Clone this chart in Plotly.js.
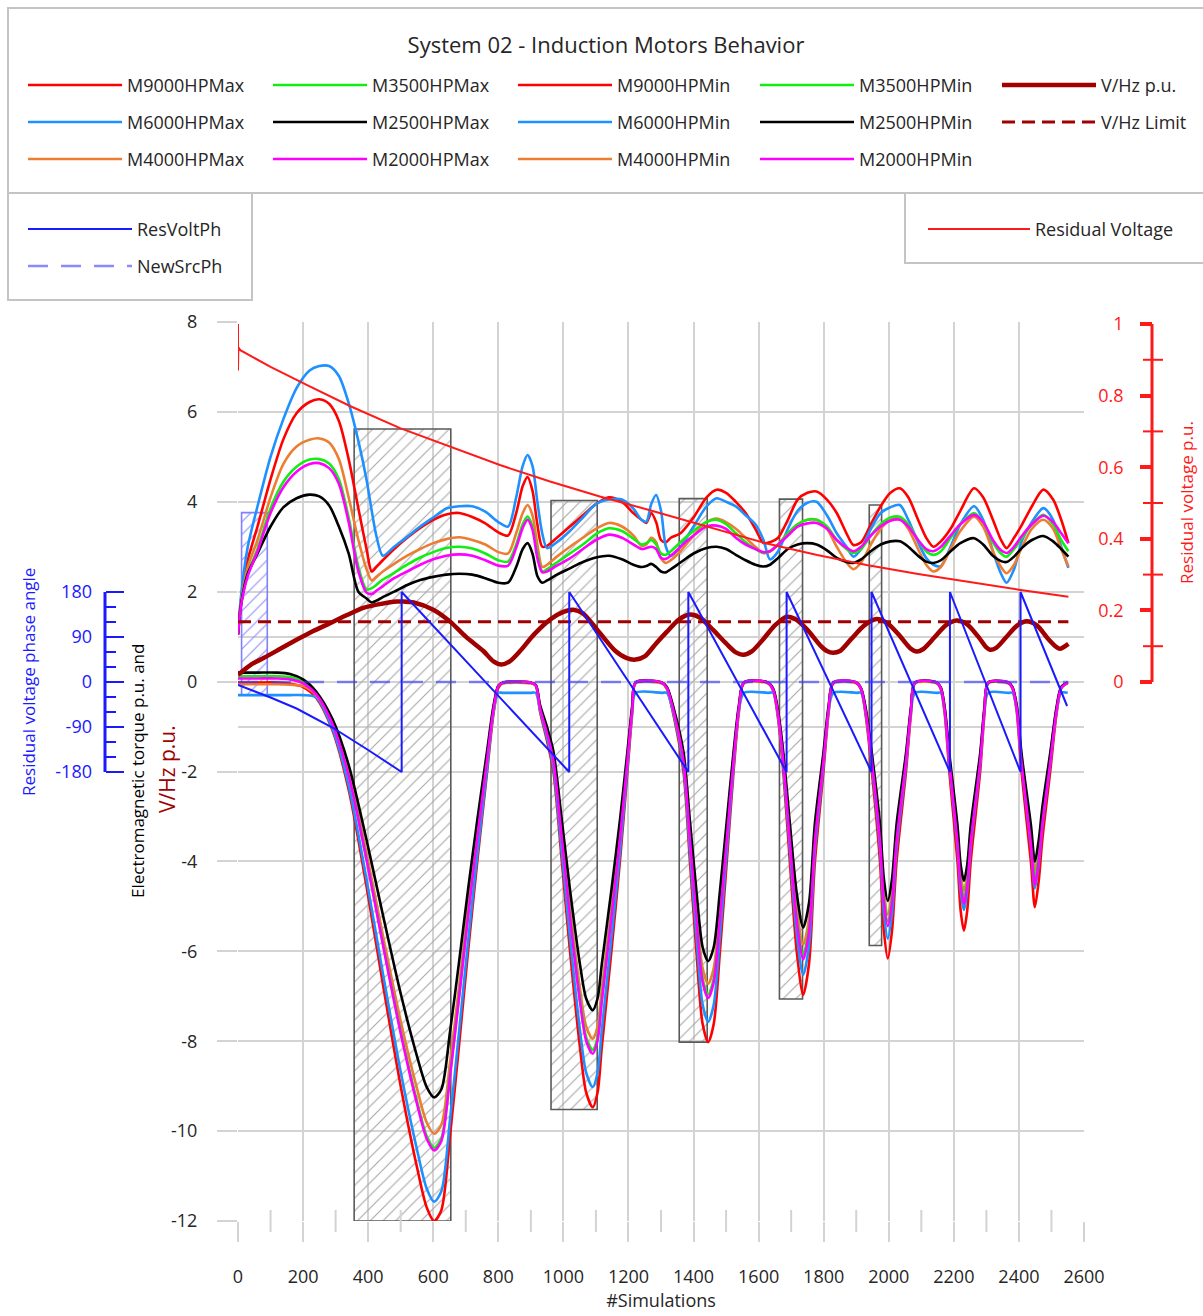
<!DOCTYPE html>
<html>
<head>
<meta charset="utf-8">
<script src="https://cdn.plot.ly/plotly-3.0.1.min.js"></script>
<style>
  html, body { margin: 0; padding: 0; background: #ffffff; }
  #chart { width: 1203px; height: 1316px; }
</style>
</head>
<body>
<div id="chart"></div>
<script>
// ---------------- data ----------------
const xTicks = [0, 200, 400, 600, 800, 1000, 1200, 1400, 1600, 1800, 2000, 2200, 2400, 2600];
const yTicks = [-12, -10, -8, -6, -4, -2, 0, 2, 4, 6, 8];
const yTickText = ['-12', '-10', '-8', '-6', '-4', '-2', '0', '2', '4', '6', '8'];
const phaseTicks = [-180, -90, 0, 90, 180];
const phaseTickText = ['-180', '-90', '0', '90', '180'];
const phaseMinorTicks = [-150, -120, -60, -30, 30, 60, 120, 150];
const residualTicks = [0, 0.2, 0.4, 0.6, 0.8, 1];
const residualTickText = ['0', '0.2', '0.4', '0.6', '0.8', '1'];
const residualMinorTicks = [0.1, 0.3, 0.5, 0.7, 0.9];

// Upper envelope: maximum electromagnetic torque per motor (p.u.)
const maxX = [0,10,30,60,100,140,180,220,250,280,
  310,340,370,395,411,425,445,480,520,560,
  600,640,680,720,760,800,830,855,875,890,
  905,920,935,950,980,1020,1060,1100,1140,1180,
  1215,1240,1255,1270,1285,1300,1315,1330,1360,1400,
  1440,1471,1500,1530,1560,1590,1615,1635,1660,1690,
  1720,1750,1778,1810,1840,1870,1891,1915,1945,1975,
  2005,2034,2060,2090,2115,2137,2160,2190,2220,2262,
  2290,2320,2345,2362,2385,2410,2440,2475,2505,2530,
  2552];
const m9000Max = [1.05,1.85,2.7,3.45,4.5,5.4,5.97,6.22,6.28,6.18,
  5.8,4.95,3.85,2.95,2.45,2.55,2.7,2.95,3.2,3.42,
  3.6,3.72,3.75,3.66,3.52,3.32,3.25,3.75,4.35,4.55,
  4.25,3.5,3.0,3.02,3.2,3.45,3.7,3.95,4.1,4.0,
  3.75,3.6,3.53,3.75,3.55,3.15,3.1,3.2,3.3,3.65,
  4.1,4.27,4.2,4.0,3.75,3.4,3.08,3.1,3.2,3.6,
  4.05,4.2,4.23,4.05,3.75,3.3,3.04,3.1,3.5,3.9,
  4.2,4.3,4.1,3.6,3.2,3.0,3.12,3.4,3.8,4.3,
  4.1,3.6,3.15,2.97,3.2,3.5,3.9,4.27,4.05,3.6,
  3.08];
const m6000Max = [1.05,1.95,3.0,3.9,5.0,5.85,6.53,6.92,7.02,7.02,
  6.8,6.2,5.35,4.49,3.8,3.25,2.8,3.0,3.22,3.45,
  3.65,3.85,3.9,3.9,3.78,3.55,3.45,4.1,4.8,5.04,
  4.8,4.0,3.3,2.97,3.1,3.35,3.65,3.95,4.05,4.05,
  3.85,3.6,3.56,3.95,4.15,3.8,3.0,2.8,3.0,3.45,
  3.9,4.08,4.0,3.9,3.7,3.5,3.15,2.72,2.9,3.4,
  3.8,3.98,4.0,3.7,3.3,3.0,2.78,2.95,3.4,3.75,
  3.88,3.93,3.6,3.1,2.75,2.6,2.57,3.0,3.5,3.9,
  3.6,2.9,2.4,2.2,2.5,3.15,3.55,3.86,3.6,3.0,
  2.53];
const m4000Max = [1.05,1.8,2.55,3.15,4.1,4.85,5.23,5.38,5.41,5.32,
  4.95,4.1,3.15,2.5,2.25,2.33,2.45,2.62,2.8,2.95,
  3.08,3.17,3.21,3.15,3.05,2.88,2.85,3.3,3.75,3.93,
  3.7,3.05,2.55,2.6,2.78,3.0,3.2,3.4,3.53,3.45,
  3.25,3.02,3.05,3.2,3.1,2.75,2.64,2.7,2.9,3.25,
  3.55,3.63,3.55,3.4,3.2,3.0,2.86,2.9,3.05,3.3,
  3.5,3.6,3.6,3.4,3.0,2.65,2.5,2.65,3.05,3.4,
  3.6,3.63,3.4,2.95,2.6,2.45,2.55,2.95,3.35,3.67,
  3.45,2.9,2.55,2.41,2.6,3.0,3.4,3.6,3.4,2.95,
  2.56];
const m3500Max = [1.05,1.75,2.4,2.95,3.85,4.45,4.78,4.94,4.95,4.85,
  4.5,3.65,2.55,2.05,2.08,2.15,2.27,2.42,2.6,2.76,
  2.88,2.97,3.0,2.96,2.85,2.7,2.67,3.05,3.5,3.67,
  3.45,2.85,2.45,2.5,2.65,2.85,3.05,3.28,3.41,3.35,
  3.18,3.05,3.08,3.15,3.05,2.85,2.82,2.9,3.1,3.35,
  3.55,3.6,3.5,3.3,3.1,2.95,2.86,2.9,3.05,3.3,
  3.5,3.6,3.6,3.45,3.15,2.95,2.86,2.95,3.25,3.5,
  3.65,3.67,3.5,3.15,2.9,2.82,2.9,3.2,3.5,3.75,
  3.55,3.1,2.85,2.78,2.95,3.2,3.5,3.71,3.5,3.15,
  2.9];
const m2500Max = [1.05,1.75,2.4,2.85,3.45,3.88,4.08,4.16,4.12,3.92,
  3.45,2.85,2.0,1.85,1.76,1.8,1.88,2.0,2.15,2.26,
  2.33,2.38,2.4,2.38,2.3,2.2,2.2,2.55,2.95,3.08,
  2.85,2.35,2.2,2.25,2.38,2.52,2.66,2.76,2.8,2.72,
  2.6,2.55,2.57,2.62,2.55,2.45,2.43,2.5,2.65,2.85,
  2.97,3.0,2.95,2.82,2.7,2.6,2.56,2.6,2.75,2.95,
  3.05,3.08,3.05,2.92,2.75,2.66,2.64,2.72,2.9,3.05,
  3.12,3.12,3.0,2.8,2.67,2.64,2.7,2.9,3.08,3.19,
  3.05,2.8,2.68,2.66,2.78,2.98,3.15,3.24,3.12,2.95,
  2.78];
const m2000Max = [1.05,1.72,2.35,2.9,3.75,4.33,4.67,4.84,4.86,4.75,
  4.4,3.55,2.45,1.98,1.95,2.02,2.12,2.3,2.45,2.6,
  2.72,2.8,2.83,2.8,2.7,2.58,2.58,2.98,3.42,3.6,
  3.38,2.75,2.43,2.45,2.58,2.74,2.95,3.15,3.27,3.2,
  3.05,2.95,2.97,3.0,2.95,2.75,2.73,2.8,3.0,3.25,
  3.45,3.47,3.4,3.2,3.05,2.95,2.88,2.9,3.05,3.25,
  3.45,3.52,3.53,3.4,3.15,2.98,2.9,3.0,3.25,3.45,
  3.58,3.6,3.45,3.15,2.95,2.9,3.0,3.25,3.5,3.71,
  3.55,3.15,2.92,2.86,3.0,3.25,3.5,3.69,3.55,3.3,
  3.08];

// Lower envelope: minimum electromagnetic torque per motor (p.u.)
const minX = [0,60,120,160,200,240,290,340,395,445,
  500,550,580,603,625,652,680,707,736,765,
  785,800,815,898,915,928,950,969,995,1020,
  1051,1070,1090,1105,1118,1148,1174,1197,1212,1222,
  1302,1318,1340,1369,1389,1409,1428,1445,1462,1481,
  1502,1523,1540,1555,1628,1645,1660,1676,1696,1717,
  1737,1755,1773,1799,1815,1830,1900,1915,1930,1948,
  1973,1985,1997,2010,2024,2053,2068,2081,2147,2160,
  2172,2186,2211,2221,2231,2241,2252,2281,2294,2306,
  2367,2380,2393,2408,2437,2449,2461,2472,2496,2515,
  2530,2550];
const m9000Min = [-0.02,-0.02,-0.02,-0.05,-0.12,-0.36,-1.08,-2.4,-4.56,-6.72,
  -9.0,-10.8,-11.7,-12.0,-11.76,-10.08,-8.04,-6.0,-3.96,-2.04,
  -0.72,-0.14,-0.02,-0.02,-0.09,-0.66,-1.33,-1.99,-3.98,-5.97,
  -8.14,-9.14,-9.47,-9.14,-8.14,-5.97,-3.98,-1.99,-0.66,-0.02,
  -0.02,-0.16,-0.8,-2.0,-4.01,-6.02,-7.62,-8.02,-7.62,-6.02,
  -4.01,-2.0,-0.64,-0.02,-0.02,-0.21,-0.84,-2.02,-4.01,-5.99,
  -6.97,-6.27,-4.01,-2.02,-0.7,-0.02,-0.02,-0.18,-0.8,-2.0,
  -4.0,-5.54,-6.16,-5.54,-4.0,-2.0,-0.74,-0.02,-0.02,-0.17,
  -0.72,-1.99,-3.99,-5.1,-5.54,-5.1,-3.99,-1.99,-0.72,-0.02,
  -0.02,-0.15,-0.65,-2.01,-4.02,-5.02,-4.42,-3.51,-2.01,-0.75,
  -0.15,-0.02];
const m6000Min = [-0.3,-0.3,-0.3,-0.3,-0.3,-0.35,-1.04,-2.31,-4.4,-6.48,
  -8.68,-10.41,-11.28,-11.57,-11.34,-9.72,-7.75,-5.79,-3.82,-1.97,
  -0.69,-0.25,-0.25,-0.25,-0.25,-0.63,-1.26,-1.89,-3.79,-5.68,
  -7.76,-8.7,-9.02,-8.7,-7.76,-5.68,-3.79,-1.89,-0.63,-0.25,
  -0.25,-0.25,-0.76,-1.89,-3.79,-5.68,-7.19,-7.57,-7.19,-5.68,
  -3.79,-1.89,-0.61,-0.25,-0.25,-0.25,-0.78,-1.89,-3.75,-5.61,
  -6.52,-5.87,-3.75,-1.89,-0.65,-0.25,-0.25,-0.25,-0.74,-1.86,
  -3.72,-5.15,-5.72,-5.15,-3.72,-1.86,-0.69,-0.25,-0.25,-0.25,
  -0.66,-1.83,-3.66,-4.67,-5.08,-4.67,-3.66,-1.83,-0.66,-0.25,
  -0.25,-0.25,-0.6,-1.84,-3.68,-4.6,-4.05,-3.22,-1.84,-0.69,
  -0.25,-0.25];
const m4000Min = [-0.06,-0.06,-0.06,-0.07,-0.1,-0.3,-0.91,-2.01,-3.82,-5.63,
  -7.55,-9.05,-9.81,-10.06,-9.86,-8.45,-6.74,-5.03,-3.32,-1.71,
  -0.6,-0.1,-0.04,-0.04,-0.08,-0.56,-1.11,-1.67,-3.34,-5.01,
  -6.84,-7.67,-7.95,-7.67,-6.84,-5.01,-3.34,-1.67,-0.56,-0.04,
  -0.04,-0.13,-0.67,-1.68,-3.36,-5.04,-6.38,-6.72,-6.38,-5.04,
  -3.36,-1.68,-0.54,-0.04,-0.04,-0.18,-0.7,-1.7,-3.36,-5.03,
  -5.85,-5.27,-3.36,-1.7,-0.59,-0.04,-0.04,-0.16,-0.67,-1.68,
  -3.37,-4.66,-5.18,-4.66,-3.37,-1.68,-0.62,-0.04,-0.04,-0.14,
  -0.61,-1.68,-3.36,-4.29,-4.66,-4.29,-3.36,-1.68,-0.61,-0.04,
  -0.04,-0.13,-0.55,-1.68,-3.36,-4.2,-3.7,-2.94,-1.68,-0.63,
  -0.13,-0.04];
const m3500Min = [0.12,0.12,0.12,0.1,0.0,-0.24,-0.9,-2.07,-3.94,-5.81,
  -7.78,-9.33,-10.11,-10.37,-10.16,-8.71,-6.95,-5.19,-3.42,-1.76,
  -0.62,-0.1,-0.02,-0.02,-0.08,-0.57,-1.15,-1.72,-3.44,-5.17,
  -7.05,-7.91,-8.2,-7.91,-7.05,-5.17,-3.44,-1.72,-0.57,-0.02,
  -0.02,-0.14,-0.7,-1.74,-3.48,-5.22,-6.61,-6.96,-6.61,-5.22,
  -3.48,-1.74,-0.56,-0.02,-0.02,-0.18,-0.73,-1.76,-3.5,-5.23,
  -6.08,-5.47,-3.5,-1.76,-0.61,-0.02,-0.02,-0.16,-0.69,-1.73,
  -3.46,-4.8,-5.33,-4.8,-3.46,-1.73,-0.64,-0.02,-0.02,-0.14,
  -0.63,-1.74,-3.47,-4.43,-4.82,-4.43,-3.47,-1.74,-0.63,-0.02,
  -0.02,-0.13,-0.57,-1.75,-3.5,-4.37,-3.85,-3.06,-1.75,-0.66,
  -0.13,-0.02];
const m2500Min = [0.2,0.2,0.2,0.17,0.05,-0.22,-0.83,-1.85,-3.52,-5.18,
  -6.94,-8.33,-9.02,-9.25,-9.07,-7.77,-6.2,-4.63,-3.05,-1.57,
  -0.55,-0.09,-0.02,-0.02,-0.07,-0.51,-1.02,-1.54,-3.07,-4.61,
  -6.29,-7.05,-7.31,-7.05,-6.29,-4.61,-3.07,-1.54,-0.51,-0.02,
  -0.02,-0.12,-0.62,-1.56,-3.11,-4.67,-5.91,-6.22,-5.91,-4.67,
  -3.11,-1.56,-0.5,-0.02,-0.02,-0.16,-0.66,-1.59,-3.15,-4.7,
  -5.47,-4.92,-3.15,-1.59,-0.55,-0.02,-0.02,-0.15,-0.63,-1.59,
  -3.17,-4.39,-4.88,-4.39,-3.17,-1.59,-0.59,-0.02,-0.02,-0.13,
  -0.58,-1.59,-3.19,-4.08,-4.43,-4.08,-3.19,-1.59,-0.58,-0.02,
  -0.02,-0.12,-0.52,-1.6,-3.2,-4.0,-3.52,-2.8,-1.6,-0.6,
  -0.12,-0.02];
const m2000Min = [0.07,0.07,0.07,0.05,-0.04,-0.28,-0.94,-2.09,-3.96,-5.84,
  -7.82,-9.39,-10.17,-10.43,-10.22,-8.76,-6.99,-5.22,-3.44,-1.77,
  -0.63,-0.1,-0.02,-0.02,-0.08,-0.58,-1.16,-1.74,-3.48,-5.22,
  -7.12,-7.99,-8.28,-7.99,-7.12,-5.22,-3.48,-1.74,-0.58,-0.02,
  -0.02,-0.14,-0.7,-1.76,-3.52,-5.28,-6.69,-7.04,-6.69,-5.28,
  -3.52,-1.76,-0.56,-0.02,-0.02,-0.19,-0.74,-1.79,-3.55,-5.31,
  -6.18,-5.56,-3.55,-1.79,-0.62,-0.02,-0.02,-0.16,-0.71,-1.77,
  -3.54,-4.9,-5.44,-4.9,-3.54,-1.77,-0.65,-0.02,-0.02,-0.15,
  -0.64,-1.78,-3.56,-4.54,-4.94,-4.54,-3.56,-1.78,-0.64,-0.02,
  -0.02,-0.14,-0.59,-1.81,-3.62,-4.52,-3.98,-3.16,-1.81,-0.68,
  -0.14,-0.02];

// Volts-per-hertz (p.u.) and its limit
const vhzX = [0,40,80,130,180,230,283,335,385,440,
  488,510,540,600,651,700,754,785,810,835,
  867,910,959,1000,1030,1060,1112,1160,1195,1222,
  1250,1285,1317,1355,1389,1420,1460,1500,1530,1553,
  1580,1615,1650,1686,1715,1750,1790,1810,1829,1850,
  1885,1925,1963,1995,2030,2065,2086,2105,2140,2175,
  2208,2240,2275,2300,2311,2330,2360,2395,2424,2455,
  2490,2515,2526,2552];
const vhzY = [0.15,0.38,0.53,0.73,0.93,1.12,1.3,1.48,1.64,1.73,
  1.78,1.78,1.76,1.6,1.34,1.0,0.68,0.45,0.38,0.45,
  0.68,1.05,1.38,1.55,1.6,1.52,1.08,0.68,0.52,0.49,
  0.56,0.85,1.1,1.38,1.49,1.42,1.15,0.85,0.65,0.6,
  0.68,0.95,1.25,1.44,1.38,1.15,0.8,0.68,0.64,0.68,
  0.95,1.25,1.39,1.3,1.05,0.75,0.67,0.72,0.98,1.25,
  1.36,1.28,1.0,0.76,0.71,0.75,0.98,1.25,1.34,1.25,
  0.95,0.77,0.73,0.84];
const vhzLimitX = [0, 2552];
const vhzLimitY = [1.333, 1.333];

// Residual voltage phase angle (deg) and new source phase (deg)
const resPhX = [0,100,180,293,400,503,503,1018,1018,1384,1384,1686,1686,1947,1947,2188,2188,2405,2405,2548];
const resPhY = [-6,-31,-53,-92,-136,-180,180,-180,180,-180,180,-180,180,-180,180,-180,180,-180,180,-48];
const newSrcX = [0, 2552];
const newSrcY = [0, 0];

// Residual voltage magnitude (p.u.)
const resVX = [0,0,0,0,1,7,100,211,344,498,651,805,959,1112,1266,1420,1625,1780,1932,2090,2239,2400,2552];
const resVY = [1.0,0.87,0.97,0.9,0.935,0.927,0.88,0.83,0.771,0.709,0.657,0.606,0.56,0.518,0.48,0.441,0.387,0.355,0.327,0.302,0.28,0.258,0.238];

// Transfer windows (hatched boxes): start, end, top, bottom
const winStart  = [11, 357, 962, 1356, 1664, 1940];
const winEnd    = [90, 654, 1104, 1442, 1735, 1978];
const winTop    = [3.76, 5.62, 4.03, 4.07, 4.06, 3.93];
const winBottom = [-0.3, -12, -9.52, -8.02, -7.06, -5.87];
const winHatch  = ['#8c8cff', '#a6a6a6', '#a6a6a6', '#a6a6a6', '#a6a6a6', '#a6a6a6'];
const winEdge   = ['#8080ff', '#5a5a5a', '#5a5a5a', '#5a5a5a', '#5a5a5a', '#5a5a5a'];

// ---------------- styling ----------------
const FONT = 'Open Sans, Noto Sans, sans-serif';
const W = 1203, H = 1316;
const M = { l: 238, r: 119, t: 322, b: 95, autoexpand: false };
const PW = W - M.l - M.r, PH = H - M.t - M.b;
const px = v => (v - M.l) / PW;          // page x pixel -> paper x
const py = v => (M.t + PH - v) / PH;     // page y pixel -> paper y
const cx = v => v / W;                   // page x pixel -> container x
const cy = v => 1 - v / H;               // page y pixel -> container y

const C = {
  red: '#ff0000', blue: '#1e90ff', orange: '#ed7d31', green: '#11ee11',
  black: '#000000', magenta: '#ff00ff', vhz: '#a00000',
  phase: '#1a1aff', residual: '#ff1a1a', grid: '#d3d3d3', text: '#262626'
};

function motor(name, x, y, color, legend) {
  return {
    type: 'scatter', mode: 'lines', name: name, x: x, y: y,
    line: { color: color, width: 2.6, shape: 'spline', smoothing: 0.8 },
    legend: legend, legendgroup: name, hoverinfo: 'skip'
  };
}

const windows = {
  type: 'bar', showlegend: false, hoverinfo: 'skip',
  x: winStart.map((s, i) => (s + winEnd[i]) / 2),
  width: winStart.map((s, i) => winEnd[i] - s),
  base: winBottom,
  y: winTop.map((t, i) => t - winBottom[i]),
  marker: {
    color: winHatch,
    pattern: { shape: '/', fillmode: 'replace', size: 9, solidity: 0.12, bgcolor: 'rgba(0,0,0,0)' },
    line: { color: winEdge, width: 1.6 }
  }
};

const traces = [
  windows,
  motor('M9000HPMax', maxX, m9000Max, C.red, 'legend'),
  motor('M6000HPMax', maxX, m6000Max, C.blue, 'legend'),
  motor('M4000HPMax', maxX, m4000Max, C.orange, 'legend'),
  motor('M3500HPMax', maxX, m3500Max, C.green, 'legend2'),
  motor('M2500HPMax', maxX, m2500Max, C.black, 'legend2'),
  motor('M2000HPMax', maxX, m2000Max, C.magenta, 'legend2'),
  motor('M9000HPMin', minX, m9000Min, C.red, 'legend3'),
  motor('M6000HPMin', minX, m6000Min, C.blue, 'legend3'),
  motor('M4000HPMin', minX, m4000Min, C.orange, 'legend3'),
  motor('M3500HPMin', minX, m3500Min, C.green, 'legend4'),
  motor('M2500HPMin', minX, m2500Min, C.black, 'legend4'),
  motor('M2000HPMin', minX, m2000Min, C.magenta, 'legend4'),
  {
    type: 'scatter', mode: 'lines', name: 'V/Hz p.u.', x: vhzX, y: vhzY,
    line: { color: C.vhz, width: 4.5, shape: 'spline', smoothing: 0.8 },
    legend: 'legend5', legendgroup: 'vhz', hoverinfo: 'skip'
  },
  {
    type: 'scatter', mode: 'lines', name: 'V/Hz Limit', x: vhzLimitX, y: vhzLimitY,
    line: { color: C.vhz, width: 3, dash: '13px,7px' },
    legend: 'legend5', legendgroup: 'vhzlim', hoverinfo: 'skip'
  },
  {
    type: 'scatter', mode: 'lines', name: 'ResVoltPh', x: resPhX, y: resPhY, yaxis: 'y2',
    line: { color: C.phase, width: 2 },
    legend: 'legend6', legendgroup: 'resph', hoverinfo: 'skip'
  },
  {
    type: 'scatter', mode: 'lines', name: 'NewSrcPh', x: newSrcX, y: newSrcY, yaxis: 'y2',
    line: { color: 'rgba(60,60,255,0.6)', width: 2.5, dash: '20px,13px' },
    legend: 'legend6', legendgroup: 'newsrc', hoverinfo: 'skip'
  },
  {
    type: 'scatter', mode: 'lines', name: 'Residual Voltage', x: resVX, y: resVY, yaxis: 'y3',
    line: { color: C.residual, width: 2 },
    legend: 'legend7', legendgroup: 'resv', hoverinfo: 'skip'
  }
];

// ---------------- decorations ----------------
const shapes = [];
// phase-angle axis spine (only across -180..180)
shapes.push({ type: 'line', xref: 'paper', yref: 'y2', x0: px(105), x1: px(105), y0: -180, y1: 180,
  line: { color: C.phase, width: 3 } });
// residual-voltage axis spine (only across 0..1) and its crossing minor ticks
shapes.push({ type: 'line', xref: 'paper', yref: 'y3', x0: px(1152), x1: px(1152), y0: 0, y1: 1,
  line: { color: C.residual, width: 3 } });
residualMinorTicks.forEach(v => shapes.push({ type: 'line', xref: 'paper', yref: 'y3',
  x0: px(1143), x1: px(1163), y0: v, y1: v, line: { color: C.residual, width: 2 } }));
// crossing minor ticks on the x axis
for (let v = 100; v < 2600; v += 200) {
  shapes.push({ type: 'line', xref: 'x', yref: 'paper', x0: v, x1: v, y0: -11 / PH, y1: 11 / PH,
    line: { color: C.grid, width: 2 } });
}
// legend frames
const frame = { type: 'rect', xref: 'paper', yref: 'paper', line: { color: '#c4c4c4', width: 2 }, fillcolor: 'rgba(0,0,0,0)' };
shapes.push(Object.assign({}, frame, { x0: px(8), x1: px(1212), y0: py(193), y1: py(8) }));
shapes.push(Object.assign({}, frame, { x0: px(8), x1: px(252), y0: py(300), y1: py(193) }));
shapes.push(Object.assign({}, frame, { x0: px(905), x1: px(1212), y0: py(263), y1: py(193) }));

const rot = { textangle: -90, showarrow: false, xanchor: 'center', yanchor: 'middle', xref: 'paper', yref: 'paper' };
const annotations = [
  Object.assign({ text: 'Residual voltage phase angle', x: px(28), y: py(682),
    font: { family: FONT, size: 17, color: C.phase } }, rot),
  Object.assign({ text: 'Electromagnetic torque p.u. and', x: px(137), y: py(771),
    font: { family: FONT, size: 17, color: '#000000' } }, rot),
  Object.assign({ text: 'V/Hz p.u.', x: px(167), y: py(769),
    font: { family: FONT, size: 21, color: C.vhz } }, rot),
  Object.assign({ text: 'Residual voltage p.u.', x: px(1187), y: py(503),
    font: { family: FONT, size: 17, color: C.residual } }, rot)
];

function legendAt(lineX, topY, itemw) {
  return {
    xref: 'container', yref: 'container', x: cx(lineX), y: cy(topY),
    xanchor: 'left', yanchor: 'top', orientation: 'v',
    bgcolor: 'rgba(0,0,0,0)', borderwidth: 0, itemwidth: itemw,
    tracegroupgap: 10.6, traceorder: 'grouped',
    font: { family: FONT, size: 18, color: C.text }
  };
}

const layout = {
  width: W, height: H,
  margin: M,
  paper_bgcolor: '#ffffff', plot_bgcolor: '#ffffff',
  font: { family: FONT, size: 18, color: C.text },
  title: { text: 'System 02 - Induction Motors Behavior', xref: 'container', yref: 'container',
    x: cx(606), y: cy(45), xanchor: 'center', yanchor: 'middle',
    font: { family: FONT, size: 22, color: C.text } },
  barmode: 'overlay', bargap: 0,
  xaxis: {
    range: [0, 2600], tickmode: 'array', tickvals: xTicks,
    ticks: 'outside', ticklen: 20, tickwidth: 2, tickcolor: C.grid,
    showgrid: true, gridcolor: C.grid, gridwidth: 2, zeroline: false, showline: false,
    tickfont: { family: FONT, size: 18, color: C.text }, ticklabelstandoff: 19,
    title: { text: '#Simulations', font: { family: FONT, size: 18, color: C.text }, standoff: 6 }
  },
  yaxis: {
    range: [-12, 8], tickmode: 'array', tickvals: yTicks, ticktext: yTickText,
    ticks: 'outside', ticklen: 20, tickwidth: 2, tickcolor: C.grid,
    showgrid: true, gridcolor: C.grid, gridwidth: 2, zeroline: false, showline: false,
    tickfont: { family: FONT, size: 18, color: C.text }, ticklabelstandoff: 16
  },
  yaxis2: {
    overlaying: 'y', side: 'left', anchor: 'free', position: 0, shift: 105 - M.l,
    range: [-1078, 720], tickmode: 'array', tickvals: phaseTicks, ticktext: phaseTickText,
    ticks: 'inside', ticklen: 18, tickwidth: 2, tickcolor: C.phase,
    minor: { tickmode: 'array', tickvals: phaseMinorTicks, ticks: 'inside', ticklen: 10, tickwidth: 2, tickcolor: C.phase },
    showgrid: true, gridcolor: C.grid, gridwidth: 2, zeroline: false, showline: false,
    tickfont: { family: FONT, size: 18, color: C.phase }, ticklabelstandoff: 13
  },
  yaxis3: {
    overlaying: 'y', side: 'right', anchor: 'free', position: 1, shift: 1152 - (M.l + PW),
    range: [-1.5056, 1.0056], tickmode: 'array', tickvals: residualTicks, ticktext: residualTickText,
    ticks: 'inside', ticklen: 12, tickwidth: 4, tickcolor: C.residual,
    ticklabelposition: 'inside', ticklabelstandoff: 17, ticklabeloverflow: 'allow',
    showgrid: false, zeroline: false, showline: false,
    tickfont: { family: FONT, size: 18, color: C.residual }
  },
  legend:  legendAt(23, 66.8, 94),
  legend2: legendAt(268, 66.8, 94),
  legend3: legendAt(513, 66.8, 94),
  legend4: legendAt(755, 66.8, 94),
  legend5: legendAt(997, 66.8, 94),
  legend6: legendAt(23, 210.8, 104),
  legend7: legendAt(923, 210.8, 102),
  shapes: shapes,
  annotations: annotations,
  showlegend: true
};

Plotly.newPlot('chart', traces, layout, { displayModeBar: false, staticPlot: true });
</script>
</body>
</html>
